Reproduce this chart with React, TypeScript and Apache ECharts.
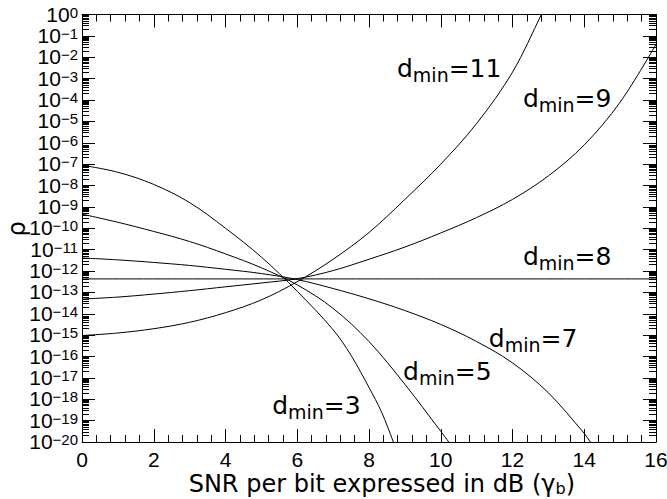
import React, { useEffect, useRef } from "react";
import * as echarts from "echarts";

// x: SNR per bit (dB); lg: log10(rho)
const dminNames = ["3", "5", "7", "8", "9", "11"];

const x_d3 = [0, 1, 2, 3, 4, 5, 6, 7, 7.5, 8, 8.35, 8.68, 8.9];
const lg_d3 = [-7.05, -7.38, -7.95, -8.8, -10.0, -11.35, -12.95, -14.75, -15.95, -17.45, -18.6, -20, -21];

const x_d5 = [0, 1, 2, 3, 4, 5, 6, 7, 8, 9, 10, 10.2, 10.5];
const lg_d5 = [-9.34, -9.72, -10.15, -10.62, -11.2, -11.85, -12.65, -13.75, -15.3, -17.3, -19.5, -19.95, -20.65];

const x_d7 = [0, 1, 2, 3, 4, 5, 6, 7, 8, 9, 10, 11, 12, 13, 14, 14.15, 14.4];
const lg_d7 = [-11.39, -11.48, -11.6, -11.74, -11.92, -12.12, -12.4, -12.82, -13.3, -13.85, -14.5, -15.3, -16.3, -17.7, -19.6, -19.95, -20.55];

const x_d8 = [0, 16];
const lg_d8 = [-12.37, -12.37];

const x_d9 = [0, 1, 2, 3, 4, 5, 6, 7, 8, 9, 10, 11, 12, 13, 14, 15, 16];
const lg_d9 = [-13.31, -13.22, -13.08, -12.92, -12.74, -12.56, -12.36, -11.98, -11.45, -10.88, -10.22, -9.5, -8.65, -7.55, -6.1, -4.1, -1.4];

const x_d11 = [0, 1, 2, 3, 4, 5, 6, 7, 8, 9, 10, 11, 12, 12.82, 13.1];
const lg_d11 = [-15.02, -14.9, -14.7, -14.4, -13.95, -13.35, -12.5, -11.45, -10.2, -8.65, -7.0, -5.1, -2.7, 0.05, 1];

const xs = [x_d3, x_d5, x_d7, x_d8, x_d9, x_d11];
const lgs = [lg_d3, lg_d5, lg_d7, lg_d8, lg_d9, lg_d11];

// curve labels: left edge (dB) and baseline (log10 rho)
const labelX = [5.3, 8.95, 11.34, 12.29, 12.29, 8.78];
const labelLg = [-18.62, -17.03, -15.49, -11.66, -4.28, -2.87];

const xMin = 0;
const xMax = 16;
const xInterval = 2;
const expMin = -20;
const expMax = 0;

const xTitle = "SNR per bit expressed in dB (";
const yTitle = "ρ";

export default function App() {
  const ref = useRef<HTMLDivElement>(null);
  useEffect(() => {
    const chart = echarts.init(ref.current!, null, { renderer: "svg" });

    const minorVals: number[] = [];
    for (let k = expMin; k < expMax; k++) {
      for (let m = 2; m <= 9; m++) minorVals.push(k + Math.log10(m));
    }

    const black = "#000";
    const tickFont = "Liberation Sans";
    const xAxisBase = (pos: "bottom" | "top", labels: boolean) => ({
      type: "value",
      position: pos,
      min: xMin,
      max: xMax,
      interval: xInterval,
      axisLine: { show: true, onZero: false, lineStyle: { color: black, width: 1 } },
      axisTick: { show: true, inside: true, length: 13, lineStyle: { color: black, width: 1 } },
      minorTick: { show: true, splitNumber: 5, length: 7, lineStyle: { color: black, width: 1 } },
      splitLine: { show: false },
      minorSplitLine: { show: false },
      axisLabel: labels
        ? { show: true, fontFamily: tickFont, fontSize: 21, color: black, margin: 7, showMinLabel: true, showMaxLabel: true }
        : { show: false },
    });

    const yMajor = (pos: "left" | "right", labels: boolean) => ({
      type: "value",
      position: pos,
      min: expMin,
      max: expMax,
      interval: 1,
      axisLine: { show: true, onZero: false, lineStyle: { color: black, width: 1 } },
      axisTick: { show: true, inside: true, length: 13, lineStyle: { color: black, width: 1 } },
      splitLine: { show: false },
      axisLabel: labels
        ? {
            show: true,
            margin: 4,
            showMinLabel: true,
            showMaxLabel: true,
            hideOverlap: false,
            formatter: (v: number) =>
              `{s| }{b|10}{e|${v === 0 ? "0" : "\u2212" + String(-v)}}`,
            rich: {
              s: { fontSize: 1, lineHeight: 20 },
              b: { fontFamily: tickFont, fontSize: 21, lineHeight: 15, verticalAlign: "bottom", color: black },
              e: { fontFamily: tickFont, fontSize: 15, lineHeight: 10, verticalAlign: "top", color: black },
            },
          }
        : { show: false },
    });

    const yMinor = (pos: "left" | "right") => ({
      type: "value",
      position: pos,
      min: expMin,
      max: expMax,
      interval: 1,
      axisLine: { show: false },
      axisTick: {
        show: true,
        inside: true,
        length: 7,
        customValues: minorVals,
        lineStyle: { color: black, width: 1 },
      },
      splitLine: { show: false },
      axisLabel: { show: false },
    });

    const option: any = {
      animation: false,
      backgroundColor: "#fff",
      grid: {
        left: 82,
        right: 11,
        top: 14.5,
        bottom: 57,
        containLabel: false,
        outerBoundsMode: "none",
      },
      xAxis: [xAxisBase("bottom", true), xAxisBase("top", false)],
      yAxis: [
        { type: "log", logBase: 10, min: Math.pow(10, expMin), max: Math.pow(10, expMax), show: false },
        yMajor("left", true),
        yMinor("left"),
        yMajor("right", false),
        yMinor("right"),
      ],
      series: dminNames.map((d, i) => ({
        type: "line",
        name: "dmin=" + d,
        xAxisIndex: 0,
        yAxisIndex: 0,
        data: xs[i].map((x, j) => [x, Math.pow(10, lgs[i][j])]),
        showSymbol: false,
        symbol: "none",
        smooth: 0.35,
        clip: true,
        silent: true,
        lineStyle: { color: black, width: 1 },
      })),
    };
    chart.setOption(option);

    const labelFont = "DejaVu Sans";
    const labelGraphics = dminNames.map((d, i) => {
      const p = chart.convertToPixel({ seriesIndex: 0 }, [labelX[i], Math.pow(10, labelLg[i])]) as number[];
      return {
        type: "text",
        x: p[0],
        y: p[1] - 20,
        silent: true,
        style: {
          text: `{m|d}{u|min}{m|=${d}}{s| }`,
          align: "left",
          verticalAlign: "top",
          rich: {
            m: { fontFamily: labelFont, fontSize: 25, lineHeight: 25, verticalAlign: "top", fill: black, color: black },
            u: { fontFamily: labelFont, fontSize: 19, lineHeight: 19, verticalAlign: "bottom", fill: black, color: black },
            s: { fontSize: 1, lineHeight: 29 },
          },
        },
      };
    });

    const titleGraphic = {
      type: "text",
      x: 382,
      y: 472,
      silent: true,
      style: {
        text: `{t|${xTitle}}{t|γ}{u|b}{t|)}{s| }`,
        align: "center",
        verticalAlign: "top",
        rich: {
          t: { fontFamily: labelFont, fontSize: 24, lineHeight: 20, verticalAlign: "top", fill: black, color: black },
          u: { fontFamily: labelFont, fontSize: 16, lineHeight: 11, verticalAlign: "bottom", fill: black, color: black },
          s: { fontSize: 1, lineHeight: 24 },
        },
      },
    };

    const rhoGraphic = {
      type: "text",
      x: 17,
      y: 229,
      rotation: Math.PI / 2,
      silent: true,
      style: {
        text: yTitle,
        fontFamily: labelFont,
        fontSize: 24,
        fill: black,
        align: "center",
        verticalAlign: "middle",
      },
    };

    chart.setOption({ graphic: [titleGraphic, rhoGraphic, ...labelGraphics] });

    return () => chart.dispose();
  }, []);

  return (
    <div
      ref={ref}
      style={{ position: "absolute", left: 0, top: 0, width: 667, height: 499, background: "#fff" }}
    />
  );
}
